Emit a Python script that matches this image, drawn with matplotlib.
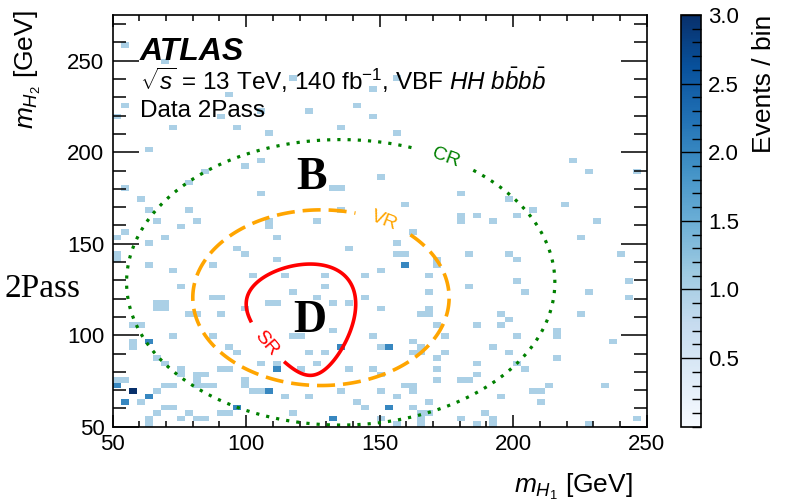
"""ATLAS VBF HH->4b: 2Pass data in the (m_H1, m_H2) plane with the SR / VR / CR outlines."""
import numpy as np
import matplotlib.pyplot as plt
from matplotlib.ticker import MultipleLocator

plt.rcParams["font.family"] = ["Liberation Sans", "DejaVu Sans"]
plt.rcParams["mathtext.fontset"] = "custom"
plt.rcParams["mathtext.rm"] = "Liberation Sans"
plt.rcParams["mathtext.it"] = "Liberation Sans:italic"
plt.rcParams["mathtext.bf"] = "Liberation Sans:bold"

# (m_H1, m_H2) of the events in GeV, read off the 3 GeV cells; a cell holding
# two or three events is listed that many times.
events_upper = [
    (54.5, 258.5), (69.5, 249.5), (54.5, 225.5), (51.5, 219.5), (72.5, 213.5),
    (93.5, 231.5), (90.5, 219.5), (117.5, 240.5), (123.5, 222.5), (105.5, 222.5),
    (141.5, 225.5), (147.5, 219.5), (108.5, 210.5), (135.5, 213.5), (96.5, 213.5),
    (63.5, 201.5), (105.5, 195.5), (99.5, 192.5), (84.5, 189.5), (78.5, 183.5),
    (54.5, 180.5), (60.5, 174.5), (105.5, 177.5), (132.5, 180.5), (135.5, 180.5),
    (63.5, 168.5), (78.5, 168.5), (135.5, 168.5), (156.5, 240.5), (147.5, 234.5),
    (156.5, 210.5), (150.5, 186.5), (159.5, 171.5), (180.5, 177.5), (198.5, 174.5),
    (207.5, 168.5), (219.5, 171.5), (222.5, 195.5), (228.5, 189.5), (246.5, 189.5),
]
events_right = [
    (180.5, 165.5), (180.5, 162.5), (186.5, 165.5), (192.5, 162.5), (201.5, 165.5),
    (231.5, 162.5), (225.5, 153.5), (162.5, 156.5), (156.5, 150.5), (156.5, 144.5),
    (159.5, 144.5), (159.5, 138.5), (159.5, 138.5), (171.5, 141.5), (171.5, 138.5),
    (183.5, 144.5), (198.5, 144.5), (201.5, 141.5), (240.5, 144.5), (150.5, 135.5),
    (168.5, 132.5), (183.5, 126.5), (201.5, 129.5), (204.5, 123.5), (228.5, 123.5),
    (243.5, 129.5), (243.5, 120.5), (168.5, 123.5), (150.5, 114.5), (165.5, 111.5),
    (168.5, 114.5), (168.5, 111.5), (171.5, 105.5), (174.5, 99.5), (195.5, 111.5),
    (198.5, 108.5), (195.5, 105.5), (186.5, 105.5), (201.5, 99.5), (216.5, 102.5),
    (216.5, 99.5), (225.5, 111.5), (237.5, 96.5), (153.5, 93.5), (153.5, 93.5),
    (150.5, 93.5), (162.5, 96.5), (165.5, 93.5), (162.5, 90.5), (165.5, 90.5),
    (171.5, 87.5), (174.5, 90.5), (171.5, 81.5), (171.5, 75.5), (180.5, 75.5),
    (183.5, 75.5), (186.5, 78.5), (186.5, 84.5), (192.5, 93.5), (198.5, 90.5),
    (201.5, 84.5), (204.5, 81.5), (216.5, 87.5), (207.5, 69.5), (210.5, 69.5),
    (213.5, 72.5), (210.5, 63.5), (195.5, 66.5), (234.5, 72.5), (159.5, 72.5),
    (162.5, 72.5), (162.5, 69.5), (156.5, 66.5), (153.5, 60.5), (153.5, 60.5),
    (162.5, 60.5), (168.5, 63.5), (165.5, 57.5), (165.5, 54.5), (165.5, 51.5),
    (180.5, 54.5), (189.5, 57.5), (192.5, 54.5), (192.5, 51.5), (186.5, 51.5),
    (228.5, 51.5), (156.5, 51.5), (246.5, 54.5), (147.5, 99.5), (147.5, 81.5),
    (150.5, 78.5), (150.5, 69.5), (168.5, 57.5), (150.5, 54.5),
]
events_lower = [
    (54.5, 156.5), (51.5, 153.5), (63.5, 150.5), (69.5, 153.5), (75.5, 159.5),
    (108.5, 159.5), (108.5, 162.5), (111.5, 153.5), (96.5, 147.5), (99.5, 144.5),
    (111.5, 141.5), (138.5, 147.5), (51.5, 144.5), (51.5, 141.5), (63.5, 138.5),
    (72.5, 135.5), (87.5, 138.5), (102.5, 132.5), (114.5, 132.5), (129.5, 132.5),
    (144.5, 132.5), (75.5, 126.5), (117.5, 123.5), (129.5, 126.5), (87.5, 120.5),
    (90.5, 120.5), (66.5, 117.5), (69.5, 117.5), (66.5, 114.5), (69.5, 114.5),
    (108.5, 117.5), (111.5, 117.5), (126.5, 120.5), (132.5, 117.5), (138.5, 117.5),
    (144.5, 120.5), (78.5, 111.5), (81.5, 111.5), (90.5, 111.5), (99.5, 114.5),
    (57.5, 105.5), (60.5, 105.5), (72.5, 99.5), (87.5, 99.5), (117.5, 99.5),
    (120.5, 99.5), (132.5, 102.5), (57.5, 96.5), (57.5, 93.5), (63.5, 96.5),
    (63.5, 96.5), (93.5, 93.5), (96.5, 90.5), (66.5, 87.5), (69.5, 84.5),
    (75.5, 81.5), (75.5, 78.5), (90.5, 81.5), (93.5, 81.5), (105.5, 84.5),
    (111.5, 81.5), (111.5, 81.5), (111.5, 84.5), (120.5, 81.5), (126.5, 84.5),
    (135.5, 93.5), (135.5, 93.5), (129.5, 90.5), (123.5, 90.5), (138.5, 81.5),
    (51.5, 72.5), (51.5, 72.5), (51.5, 75.5), (54.5, 75.5), (57.5, 69.5),
    (57.5, 69.5), (57.5, 69.5), (54.5, 63.5), (54.5, 63.5), (60.5, 63.5),
    (63.5, 66.5), (63.5, 66.5), (66.5, 69.5), (66.5, 57.5), (63.5, 54.5),
    (63.5, 51.5), (69.5, 60.5), (72.5, 60.5), (69.5, 72.5), (72.5, 72.5),
    (81.5, 78.5), (84.5, 78.5), (81.5, 75.5), (81.5, 72.5), (84.5, 72.5),
    (87.5, 72.5), (78.5, 57.5), (75.5, 54.5), (81.5, 54.5), (84.5, 54.5),
    (90.5, 57.5), (93.5, 57.5), (96.5, 60.5), (96.5, 60.5), (99.5, 75.5),
    (99.5, 72.5), (102.5, 69.5), (105.5, 69.5), (108.5, 69.5), (108.5, 69.5),
    (114.5, 66.5), (117.5, 57.5), (123.5, 66.5), (132.5, 54.5), (132.5, 54.5),
    (135.5, 69.5), (141.5, 63.5), (144.5, 60.5), (66.5, 162.5), (81.5, 162.5),
    (126.5, 162.5),
]

# region outlines: SR is X_HH < 1.6, VR a circle, CR a slightly squashed circle
SR_CENTER, SR_RES, SR_CUT = (124.0, 117.0), (1500.0, 1900.0), 1.6
VR_CENTER, VR_RADIUS = (128.0, 120.5), 48.0
CR_CENTER, CR_RADII = (135.4, 128.9), (80.2, 78.0)

fig = plt.figure(figsize=(7.87, 5.03), dpi=100)
ax = fig.add_axes([0.1432, 0.1517, 0.6785, 0.8185])
cax = fig.add_axes([0.8649, 0.1517, 0.0258, 0.8185])

ev = np.array(events_upper + events_right + events_lower)
xedges = np.arange(50, 251.1, 3)
yedges = np.arange(50, 275.1, 3)
counts, _, _ = np.histogram2d(ev[:, 0], ev[:, 1], bins=[xedges, yedges])
counts = np.ma.masked_equal(counts, 0)
mesh = ax.pcolormesh(xedges, yedges, counts.T, cmap="Blues", vmin=0, vmax=3,
                     linewidth=0)

m1, m2 = np.meshgrid(np.linspace(50, 250, 801), np.linspace(50, 275, 901))
xhh = np.hypot((m1 - SR_CENTER[0]) / (SR_RES[0] / m1),
               (m2 - SR_CENTER[1]) / (SR_RES[1] / m2))
rvr = np.hypot(m1 - VR_CENTER[0], m2 - VR_CENTER[1])
rcr = np.hypot((m1 - CR_CENTER[0]) / CR_RADII[0], (m2 - CR_CENTER[1]) / CR_RADII[1])

cs_cr = ax.contour(m1, m2, rcr, levels=[1.0], colors="#008000", linewidths=2.3,
                   linestyles=[(0, (1, 2.2))])
cs_vr = ax.contour(m1, m2, rvr, levels=[VR_RADIUS], colors="#FFA500", linewidths=2.6,
                   linestyles=[(0, (5, 2.2))])
cs_sr = ax.contour(m1, m2, xhh, levels=[SR_CUT], colors="red", linewidths=2.6)
ax.clabel(cs_cr, fmt=lambda v: "CR", manual=[(174, 194)], inline=True,
          inline_spacing=16, fontsize=14)
ax.clabel(cs_vr, fmt=lambda v: "VR", manual=[(151, 160)], inline=True,
          inline_spacing=16, fontsize=14)
ax.clabel(cs_sr, fmt=lambda v: "SR", manual=[(107, 95)], inline=True,
          inline_spacing=12, fontsize=14)

ax.text(124.4, 180.1, "B", ha="center", va="baseline", family="Liberation Serif",
        fontweight="bold", fontsize=33)
ax.text(123.8, 101.7, "D", ha="center", va="baseline", family="Liberation Serif",
        fontweight="bold", fontsize=33)

ax.text(0.051, 0.891, "ATLAS", transform=ax.transAxes, fontsize=23,
        fontweight="bold", fontstyle="italic")
ax.text(0.051, 0.818,
        r"$\sqrt{s}$ = 13 TeV, 140 fb$^{-1}$, VBF $HH$ $b\bar{b}b\bar{b}$",
        transform=ax.transAxes, fontsize=17.5)
ax.text(0.051, 0.7515, "Data 2Pass", transform=ax.transAxes, fontsize=17.5)

fig.text(80 / 787, 0.410, "2Pass", ha="right", va="baseline",
         family="Liberation Serif", fontsize=24)

ax.set_xlim(50, 250)
ax.set_ylim(50, 275)
for axis in (ax.xaxis, ax.yaxis):
    axis.set_major_locator(MultipleLocator(50))
    axis.set_minor_locator(MultipleLocator(10))
ax.tick_params(which="both", direction="in", top=True, right=True, labelsize=16,
               width=1.1)
ax.xaxis.set_tick_params(which="major", length=8.6, pad=5)
ax.xaxis.set_tick_params(which="minor", length=4.3)
ax.yaxis.set_tick_params(which="major", length=18.5, pad=6)
ax.yaxis.set_tick_params(which="minor", length=9.3)
for sp in ax.spines.values():
    sp.set_linewidth(1.2)

ax.set_xlabel(r"$m_{H_1}$ [GeV]", fontsize=19, loc="right")
ax.xaxis.set_label_coords((633 - 112.7) / 534, -0.11)
ax.set_ylabel(r"$m_{H_2}$ [GeV]", fontsize=19, loc="top")
ax.yaxis.set_label_coords(-0.13, 1.012)

cb = fig.colorbar(mesh, cax=cax)
cb.set_ticks([0.5, 1.0, 1.5, 2.0, 2.5, 3.0])
cb.ax.yaxis.set_minor_locator(MultipleLocator(0.1))
cb.ax.tick_params(which="both", direction="in", labelsize=16, width=1.0, pad=5)
cb.ax.tick_params(which="major", length=14.4)
cb.ax.tick_params(which="minor", length=6.5)
cb.ax.yaxis.set_major_formatter(plt.FormatStrFormatter("%.1f"))
cb.outline.set_linewidth(1.2)
cb.set_label("Events / bin", fontsize=19, loc="top")
cb.ax.yaxis.set_label_coords(3.5, 1.0)

fig.savefig("out.png", dpi=100)
